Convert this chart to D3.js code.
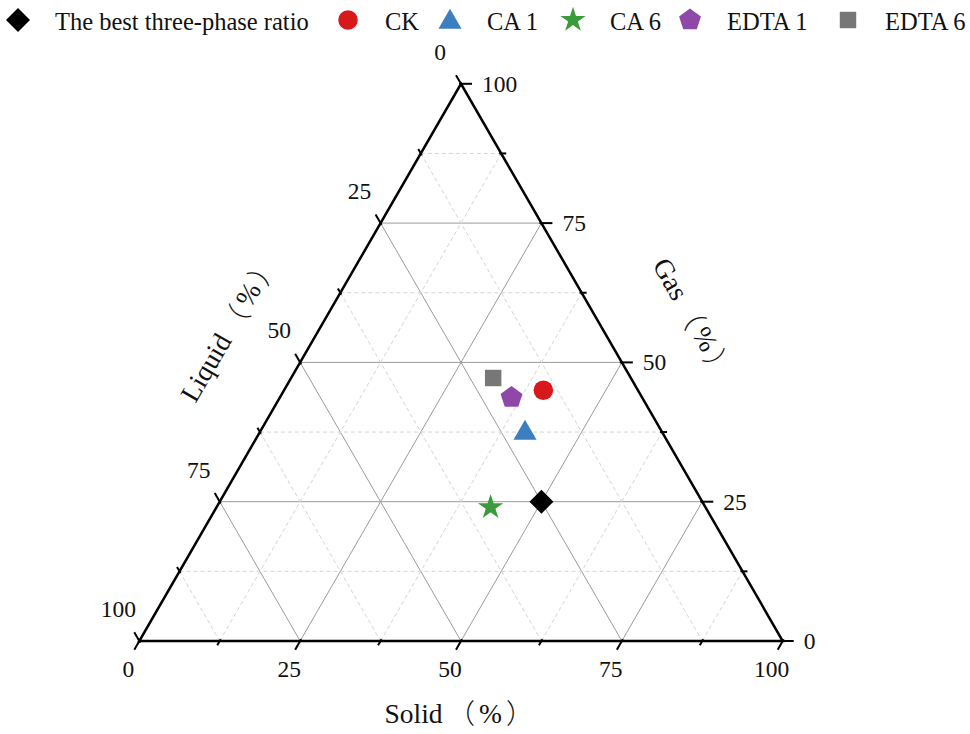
<!DOCTYPE html>
<html><head><meta charset="utf-8">
<script src="https://cdn.jsdelivr.net/npm/d3@7"></script>
<style>body{margin:0;background:#fff}svg{display:block}</style>
</head><body>
<svg id="c" width="970" height="734"></svg>
<script>
// ---- data ----
const seriesNames = ["The best three-phase ratio","CK","CA 1","CA 6","EDTA 1","EDTA 6"];
const solidVals  = [50.0, 40.3, 41.3, 42.6, 36.0, 31.4];
const gasVals    = [25.0, 45.0, 37.3, 24.0, 43.7, 47.2];
const liquidVals = [25.0, 14.7, 21.4, 33.4, 20.3, 21.4];
const colors     = ["#000000","#d7191c","#3b7fc0","#3b9b3b","#9048a8","#777777"];
const shapes     = ["diamond","circle","triangle","star","pentagon","square"];
const majorTicks = [0,25,50,75,100];
const minorTicks = [12.5,37.5,62.5,87.5];
const axisTitles = ["Solid","Liquid","Gas"];

const svg = d3.select("#c");
const L = 139.3, R = 782.7, B = 641;
const W = R - L, H = W*Math.sqrt(3)/2;
const xs = d3.scaleLinear().domain([0,100]).range([L,R]);
const ys = d3.scaleLinear().domain([0,100]).range([B,B-H]);
function pt(s,g){ return [xs(s+g/2), ys(g)]; }

const font = "'Liberation Serif','Times New Roman',serif";
const cjk = "'Noto Sans CJK SC',sans-serif";
const g0 = svg.append("g");

// grid lines
function gridLines(v, major){
  const segs = [
    [pt(0,v), pt(100-v,v)],
    [pt(v,0), pt(v,100-v)],
    [pt(0,100-v), pt(100-v,0)]
  ];
  segs.forEach(s=>{
    g0.append("line").attr("x1",s[0][0]).attr("y1",s[0][1]).attr("x2",s[1][0]).attr("y2",s[1][1])
      .attr("stroke", major ? "#9a9a9a" : "#d4d4d4").attr("stroke-width",1)
      .attr("stroke-dasharray", major ? null : "4,3");
  });
}
[25,50,75].forEach(v=>gridLines(v,true));
minorTicks.forEach(v=>gridLines(v,false));

// triangle
g0.append("path").attr("d", d3.line()([pt(0,0),pt(100,0),pt(0,100)]) + "Z")
  .attr("fill","none").attr("stroke","#000").attr("stroke-width",2.5).attr("stroke-linejoin","miter");

// ticks
const c60 = 0.5, s60 = Math.sqrt(3)/2;
function tick(p, dx, dy, len){
  g0.append("line").attr("x1",p[0]-dx*2).attr("y1",p[1]-dy*2).attr("x2",p[0]+dx*len).attr("y2",p[1]+dy*len)
    .attr("stroke","#000").attr("stroke-width",2);
}
majorTicks.forEach(v=>{
  tick(pt(v,0), -c60, s60, 10);
  tick(pt(100-v,v), 1, 0, 11);
  tick(pt(0,100-v), -c60, -s60, 10);
});
minorTicks.forEach(v=>{
  tick(pt(v,0), -c60, s60, 5);
  tick(pt(100-v,v), 1, 0, 5);
  tick(pt(0,100-v), -c60, -s60, 5);
});

// tick labels
const lbl = svg.append("g").attr("font-family",font).attr("font-size",23.5).attr("fill","#111");
majorTicks.forEach(v=>{
  let p = pt(v,0);
  lbl.append("text").attr("x",p[0]-11).attr("y",p[1]+28).attr("text-anchor","middle").attr("dominant-baseline","central").text(v);
  p = pt(100-v,v);
  lbl.append("text").attr("x",p[0]+21).attr("y",p[1]).attr("text-anchor","start").attr("dominant-baseline","central").text(v);
  p = pt(0,100-v);
  lbl.append("text").attr("x",p[0]-21).attr("y",p[1]-32).attr("text-anchor","middle").attr("dominant-baseline","central").text(v);
});

// axis titles
const tt = svg.append("g").attr("font-size",27.5).attr("fill","#111");
function title(tr, name, baseline){
  const t = tt.append("text").attr("transform",tr).attr("text-anchor","middle");
  if (baseline) t.attr("dominant-baseline","central");
  t.append("tspan").attr("font-family",font).text(name);
  t.append("tspan").attr("font-family",cjk).attr("font-weight",300).attr("dx",5).text("（");
  t.append("tspan").attr("font-family",font).attr("dx",4).text("%");
  t.append("tspan").attr("font-family",cjk).attr("font-weight",300).attr("dx",4).text("）");
}
title("translate(459,723)", axisTitles[0], false);
title("translate(228,328) rotate(-60)", axisTitles[1], true);
title("translate(694,318) rotate(60)", axisTitles[2], true);

// symbols
function symPath(shape){
  if (shape === "pentagon"){
    const r = 11.5;
    const pts = d3.range(5).map(i=>{const a = -Math.PI/2 + i*2*Math.PI/5; return [r*Math.cos(a), r*Math.sin(a)];});
    return d3.line()(pts)+"Z";
  }
  if (shape === "diamond"){
    const r = 12;
    return d3.line()([[0,-r],[r,0],[0,r],[-r,0]])+"Z";
  }
  const map = {circle:d3.symbolCircle, triangle:d3.symbolTriangle, star:d3.symbolStar, square:d3.symbolSquare};
  const area = {circle:300, triangle:230, star:200, square:270}[shape];
  return d3.symbol().type(map[shape]).size(area)();
}
const pg = svg.append("g");
seriesNames.forEach((n,i)=>{
  const p = pt(solidVals[i], gasVals[i]);
  pg.append("path").attr("d", symPath(shapes[i])).attr("transform",`translate(${p[0]},${p[1]})`).attr("fill",colors[i]);
});

// legend
const legX = [18, 348, 450, 573, 690, 848];
const lg = svg.append("g").attr("font-family",font).attr("font-size",24.5).attr("fill","#111");
seriesNames.forEach((n,i)=>{
  lg.append("path").attr("d", symPath(shapes[i])).attr("transform",`translate(${legX[i]},${i===2?22:20})`).attr("fill",colors[i]);
  lg.append("text").attr("x",legX[i]+37).attr("y",21).attr("dominant-baseline","central").text(n);
});
</script>
</body></html>
